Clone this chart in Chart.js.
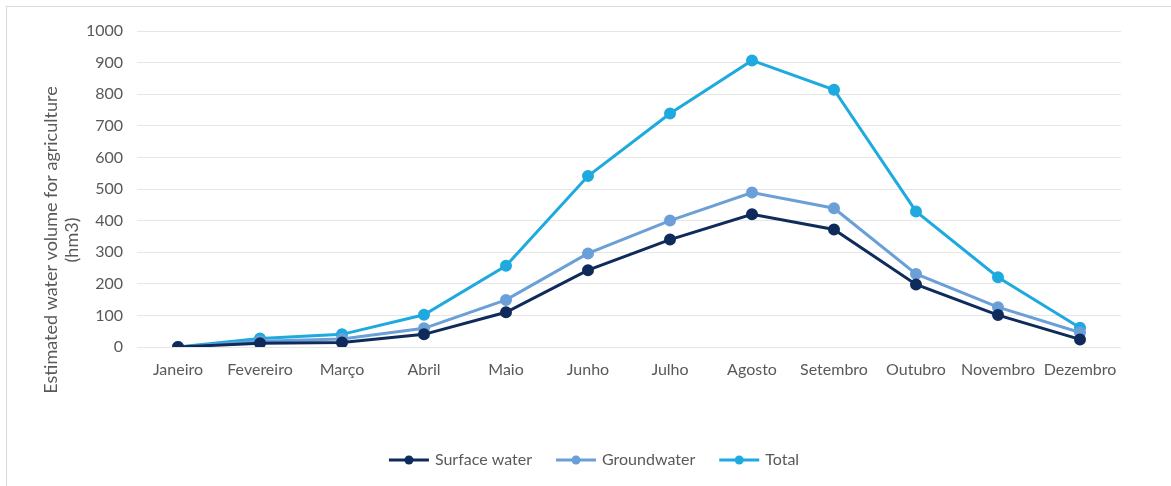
<!DOCTYPE html>
<html>
<head>
<meta charset="utf-8">
<script src="https://cdn.jsdelivr.net/npm/chart.js@4"></script>
<style>
  body { margin: 0; background: #fff; }
  #wrap { position: relative; width: 1171px; height: 486px; }
  #frame { position: absolute; left: 6px; top: 6px; right: 0; bottom: 0; border-left: 1px solid #d9d9d9; border-top: 1px solid #d9d9d9; }
  canvas { position: absolute; left: 0; top: 0; }
</style>
</head>
<body>
<div id="wrap">
  <div id="frame"></div>
  <canvas id="chart" width="1171" height="486"></canvas>
</div>
<script>
const months = ['Janeiro', 'Fevereiro', 'Março', 'Abril', 'Maio', 'Junho', 'Julho', 'Agosto', 'Setembro', 'Outubro', 'Novembro', 'Dezembro'];
const surfaceWater = [0, 12, 14, 40, 110, 243, 340, 420, 372, 198, 101, 24];
const groundwater = [0, 18, 25, 59, 149, 296, 400, 489, 439, 231, 126, 46];
const total = [0, 27, 40, 102, 257, 541, 739, 907, 814, 429, 221, 61];
const yTitle = ['Estimated water volume for agriculture', '(hm3)'];

const colors = ['#0f2b5b', '#6a9fd8', '#1eaade'];

// legend marker: short line with a dot in the middle
function legendMark(color) {
    const c = document.createElement('canvas');
    c.width = 42;
    c.height = 12;
    const ctx = c.getContext('2d');
    ctx.strokeStyle = color;
    ctx.lineWidth = 3;
    ctx.beginPath();
    ctx.moveTo(1, 6);
    ctx.lineTo(41, 6);
    ctx.stroke();
    ctx.fillStyle = color;
    ctx.beginPath();
    ctx.arc(21, 6, 4.5, 0, Math.PI * 2);
    ctx.fill();
    return c;
}
const marks = colors.map(legendMark);

const yTitlePlugin = {
    id: 'yTitle',
    afterDraw(chart) {
        const ctx = chart.ctx;
        ctx.save();
        ctx.fillStyle = '#595959';
        ctx.font = '18px Lato';
        ctx.textAlign = 'center';
        ctx.textBaseline = 'middle';
        ctx.translate(51, 240);
        ctx.rotate(-Math.PI / 2);
        ctx.fillText(yTitle[0], 0, 0);
        ctx.fillText(yTitle[1], 0, 21);
        ctx.restore();
    }
};

function makeSet(label, values, color) {
    return {
        label: label,
        data: values,
        borderColor: color,
        backgroundColor: color,
        borderWidth: 3,
        pointRadius: 4.5,
        pointHoverRadius: 5,
        tension: 0
    };
}

new Chart(document.getElementById('chart'), {
    type: 'line',
    data: {
        labels: months,
        datasets: [
            makeSet('Surface water', surfaceWater, colors[0]),
            makeSet('Groundwater', groundwater, colors[1]),
            makeSet('Total', total, colors[2])
        ]
    },
    options: {
        responsive: false,
        animation: false,
        layout: { padding: { top: 31, right: 50, bottom: 8, left: 69 } },
        plugins: {
            legend: {
                position: 'bottom',
                labels: {
                    usePointStyle: true,
                    pointStyleWidth: 36,
                    padding: 26,
                    color: '#595959',
                    font: { family: 'Lato', size: 16 },
                    generateLabels(chart) {
                        const items = Chart.defaults.plugins.legend.labels.generateLabels(chart);
                        items.forEach((it, i) => { it.pointStyle = marks[i]; });
                        return items;
                    }
                }
            },
            tooltip: { enabled: false }
        },
        scales: {
            x: {
                offset: true,
                grid: { display: false, drawTicks: false },
                border: { display: false },
                ticks: { color: '#595959', font: { family: 'Lato', size: 16 }, padding: 13, maxRotation: 0, autoSkip: false },
                afterFit(scale) { scale.height = 79; }
            },
            y: {
                min: 0,
                max: 1000,
                ticks: { stepSize: 100, color: '#595959', font: { family: 'Lato', size: 16 }, padding: 14, callback: v => v },
                grid: { color: '#e6e6e6', drawTicks: false },
                border: { display: false },
                afterFit(scale) { scale.width = 68; }
            }
        }
    },
    plugins: [yTitlePlugin]
});
</script>
</body>
</html>
